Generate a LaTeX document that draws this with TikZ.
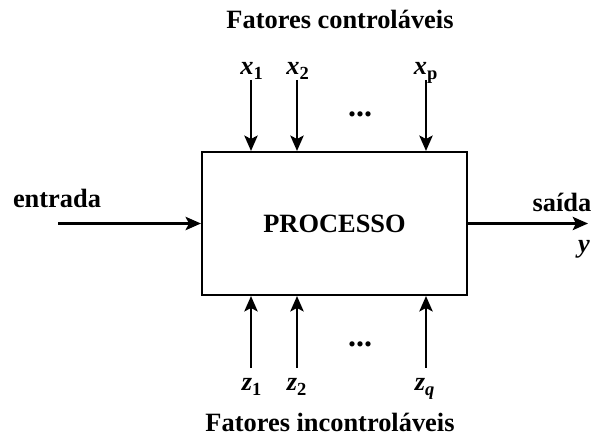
\documentclass[tikz,border=0pt]{standalone}
\usepackage{fontspec}
\setmainfont{Liberation Serif}
\usetikzlibrary{arrows.meta}

\newcommand{\bivar}[2]{\textbf{\textit{#1}}\textsubscript{\textbf{#2}}}

\begin{document}
\begin{tikzpicture}[
    x=0.75pt, y=-0.75pt,
    proc/.style={draw, line width=1.6pt, minimum width=198.75pt, minimum height=107.25pt, inner sep=0pt},
    lbl/.style={font=\bfseries\fontsize{19.8}{24}\selectfont, anchor=base, inner sep=0pt},
    dots/.style={font=\bfseries\fontsize{24}{28}\selectfont, inner sep=0pt},
    flow/.style={line width=1.6pt, -{Stealth[length=11.5pt, width=10pt, inset=2.5pt]}}
  ]
    \useasboundingbox (0,0) rectangle (593,441);

    % process box
    \node[proc, lbl, anchor=center] (proc) at (334.5,223.5) {PROCESSO};

    \node[lbl] (ctrl) at (340,29) {Fatores controláveis};
    \node[lbl] (unctrl) at (330,432) {Fatores incontroláveis};

    % controllable factors
    \node[lbl] (x1) at (252,75) {\bivar{x}{1}};
    \node[lbl] (x2) at (298,75) {\bivar{x}{2}};
    \node[lbl] (xp) at (426,75) {\bivar{x}{p}};
    \node[dots] (xdots) at (360,114) {...};

    \coordinate (x1s) at (251,80);
    \coordinate (x2s) at (297,80);
    \coordinate (xps) at (426,80);
    \draw[flow] (x1s) -- (x1s |- proc.north);
    \draw[flow] (x2s) -- (x2s |- proc.north);
    \draw[flow] (xps) -- (xps |- proc.north);

    % uncontrollable factors
    \node[lbl] (z1) at (252,391) {\bivar{z}{1}};
    \node[lbl] (z2) at (297,391) {\bivar{z}{2}};
    \node[lbl] (zq) at (425,391) {\textbf{\textit{z}}\textsubscript{\textbf{\textit{q}}}};
    \node[dots] (zdots) at (360,344) {...};

    \coordinate (z1s) at (251,368);
    \coordinate (z2s) at (297,368);
    \coordinate (zqs) at (426,368);
    \draw[flow] (z1s) -- (z1s |- proc.south);
    \draw[flow] (z2s) -- (z2s |- proc.south);
    \draw[flow] (zqs) -- (zqs |- proc.south);

    % input and output
    \node[lbl] (in) at (57,208) {entrada};
    \coordinate (ins) at (58,223.5);
    \draw[flow] (ins) -- (proc.west);

    \node[lbl] (out) at (562,212) {saída};
    \node[lbl] (y) at (584,253) {\textbf{\textit{y}}};
    \coordinate (oute) at (588,223.5);
    \draw[flow] (proc.east) -- (oute);
\end{tikzpicture}
\end{document}
